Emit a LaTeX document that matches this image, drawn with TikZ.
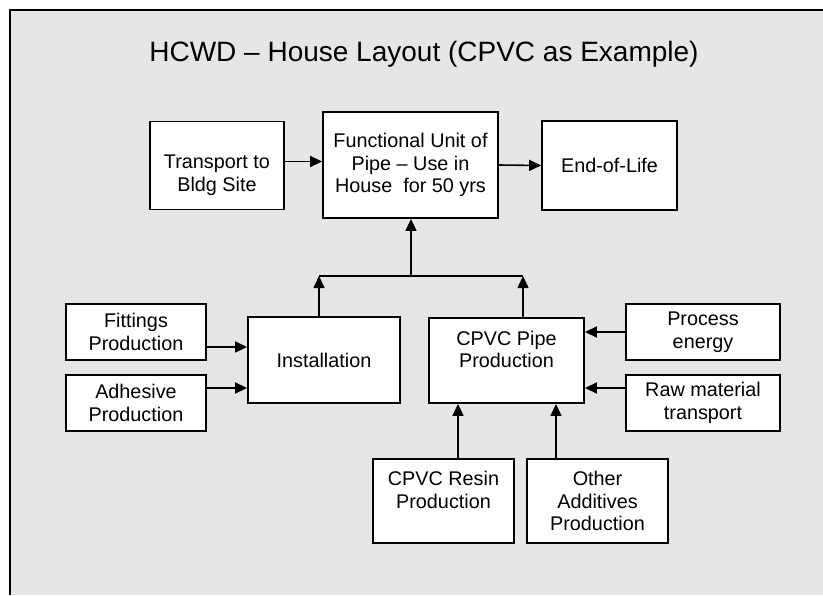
\documentclass[tikz,border=0pt]{standalone}
\usepackage{fontspec}
\setmainfont{Liberation Sans}
\usetikzlibrary{arrows.meta, positioning, calc}
\definecolor{slidegray}{HTML}{E6E6E6}
\newcommand{\boxfont}{\fontsize{9.9}{11.4}\selectfont}
\newcommand{\titlefont}{\fontsize{14}{16}\selectfont}

\begin{document}
\begin{tikzpicture}[x=0.5pt, y=-0.5pt,
    box/.style={draw, line width=0.9pt, fill=white, align=center, inner sep=2pt, font=\boxfont},
    boxtext/.style={align=center, font=\boxfont},
    flow/.style={line width=0.8pt, -{Triangle[length=6pt,width=5.5pt]}}]
\useasboundingbox (0,0) rectangle (823,595);
% slide background and frame
\fill[white] (0,0) rectangle (823,595);
\fill[slidegray] (10,10) rectangle (823,595);
\draw[line width=1pt] (823,10) -- (10,10) -- (10,595);
\node[font=\titlefont] (title) at (424,54) {HCWD -- House Layout (CPVC as Example)};

% top row
\node[box, minimum width=67pt, minimum height=44pt,
      label={[boxtext, yshift=-5pt]center:Transport to\\Bldg Site}] (trans) at (217,165.5) {};
\node[box, minimum width=87.5pt, minimum height=53pt] (fu) at (410.5,165)
    {Functional Unit of\\Pipe -- Use in\\House \ for 50 yrs};
\node[box, minimum width=67.5pt, minimum height=44.5pt] (eol) at (609.5,165.5) {End-of-Life};

% middle row
\node[box, minimum width=70pt, minimum height=28pt] (fit) at (136,332) {Fittings\\Production};
\node[box, minimum width=70pt, minimum height=28pt] (adh) at (136,403) {Adhesive\\Production};
\node[box, minimum width=76pt, minimum height=43pt] (inst) at (324,360) {Installation};
\node[box, minimum width=77.5pt, minimum height=42.5pt,
      label={[boxtext, yshift=5.5pt]center:CPVC Pipe\\Production}] (pipe) at (506.5,360.5) {};
\node[box, minimum width=77pt, minimum height=28pt] (proc) at (703,332) {Process\\energy};
\node[box, minimum width=77pt, minimum height=28pt] (raw) at (703,403) {Raw material\\transport};

% bottom row
\node[box, minimum width=70.5pt, minimum height=42pt,
      label={[boxtext, yshift=5.5pt]center:CPVC Resin\\Production}] (resin) at (443.5,501) {};
\node[box, minimum width=70.5pt, minimum height=42pt] (oth) at (597.5,501) {Other\\Additives\\Production};

% connectors
\draw[flow] ([yshift=2pt]trans.east) -- ([yshift=2pt]trans.east -| fu.west);
\draw[flow] (fu.east) -- (eol.west);

\coordinate (busL) at (319,276);
\coordinate (busM) at (411,276);
\coordinate (busR) at (523,276);
\draw[line width=0.8pt] (busL) -- (busR);
\draw[flow] (inst.north -| busL) -- (busL);
\draw[flow] (pipe.north -| busR) -- (busR);
\draw[flow] (busM) -- (fu.south -| busM);

\draw[flow] ([yshift=-7.5pt]fit.east) -- ([yshift=-7.5pt]fit.east -| inst.west);
\draw[flow] ([yshift=7.5pt]adh.east) -- ([yshift=7.5pt]adh.east -| inst.west);
\draw[flow] (proc.west) -- (proc.west -| pipe.east);
\draw[flow] ([yshift=7.5pt]raw.west) -- ([yshift=7.5pt]raw.west -| pipe.east);
\draw[flow] ([xshift=7.25pt]resin.north) -- ([xshift=7.25pt]resin.north |- pipe.south);
\draw[flow] ([xshift=-20.75pt]oth.north) -- ([xshift=-20.75pt]oth.north |- pipe.south);
\end{tikzpicture}
\end{document}
